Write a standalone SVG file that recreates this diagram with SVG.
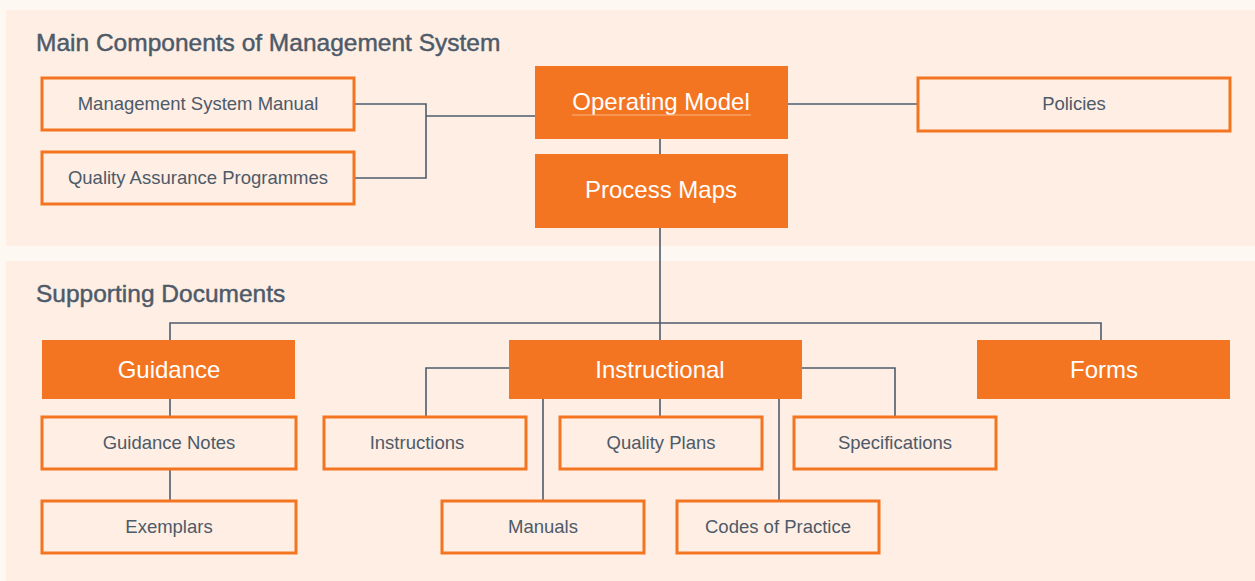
<svg xmlns="http://www.w3.org/2000/svg" width="1255" height="581" viewBox="0 0 1255 581">
<style>
.panel{fill:#feeee3}
.box{fill:#feeee3;stroke:#f47521;stroke-width:3}
.fill{fill:#f47521}
.t{font-family:"Liberation Sans",Arial,sans-serif;font-size:18.5px;fill:#4d5a69;text-anchor:middle}
.w{font-family:"Liberation Sans",Arial,sans-serif;font-size:24px;fill:#ffffff;text-anchor:middle}
.h{font-family:"Liberation Sans",Arial,sans-serif;font-size:24.5px;fill:#4d5a69;stroke:#4d5a69;stroke-width:0.45}
.c{fill:none;stroke:#4d5c6c;stroke-width:1.6}
</style>
<rect width="1255" height="581" fill="#fef8f3"/>
<rect class="panel" x="6" y="10" width="1249" height="236"/>
<rect class="panel" x="6" y="261" width="1249" height="320"/>
<text class="h" x="36" y="51">Main Components of Management System</text>
<text class="h" x="36" y="302">Supporting Documents</text>
<g id="connectors">
<path class="c" d="M354,104H426V178H354M426,116H535"/>
<path class="c" d="M787,104H918"/>
<path class="c" d="M660,139V155M660,227V340"/>
<path class="c" d="M170,340V323H1101V340"/>
<path class="c" d="M170,399V417M170,469V501"/>
<path class="c" d="M509,368H426V417M802,368H895V417"/>
<path class="c" d="M543,399V501M660,399V417M779,399V501"/>
</g>
<g id="msm"><rect class="box" x="42" y="78" width="312" height="52"/><text class="t" x="198" y="110">Management System Manual</text></g>
<g id="qap"><rect class="box" x="42" y="152" width="312" height="52"/><text class="t" x="198" y="184">Quality Assurance Programmes</text></g>
<g id="operating-model"><rect class="fill" x="535" y="66" width="253" height="73"/><text class="w" x="661" y="110">Operating Model</text><line x1="572" y1="115" x2="751" y2="115" stroke="#fbb583" stroke-width="1"/></g>
<g id="process-maps"><rect class="fill" x="535" y="154" width="253" height="74"/><text class="w" x="661" y="198">Process Maps</text></g>
<g id="policies"><rect class="box" x="918" y="78" width="312" height="53"/><text class="t" x="1074" y="110">Policies</text></g>
<g id="guidance"><rect class="fill" x="42" y="340" width="253" height="59"/><text class="w" x="169" y="378">Guidance</text></g>
<g id="instructional"><rect class="fill" x="509" y="340" width="293" height="59"/><text class="w" x="660" y="378">Instructional</text></g>
<g id="forms"><rect class="fill" x="977" y="340" width="253" height="59"/><text class="w" x="1104" y="378">Forms</text></g>
<g id="guidance-notes"><rect class="box" x="42" y="417" width="254" height="52"/><text class="t" x="169" y="449">Guidance Notes</text></g>
<g id="exemplars"><rect class="box" x="42" y="501" width="254" height="52"/><text class="t" x="169" y="533">Exemplars</text></g>
<g id="instructions"><rect class="box" x="324" y="417" width="202" height="52"/><text class="t" x="417" y="449">Instructions</text></g>
<g id="quality-plans"><rect class="box" x="560" y="417" width="202" height="52"/><text class="t" x="661" y="449">Quality Plans</text></g>
<g id="specifications"><rect class="box" x="794" y="417" width="202" height="52"/><text class="t" x="895" y="449">Specifications</text></g>
<g id="manuals"><rect class="box" x="442" y="501" width="202" height="52"/><text class="t" x="543" y="533">Manuals</text></g>
<g id="codes"><rect class="box" x="677" y="501" width="202" height="52"/><text class="t" x="778" y="533">Codes of Practice</text></g>
</svg>
